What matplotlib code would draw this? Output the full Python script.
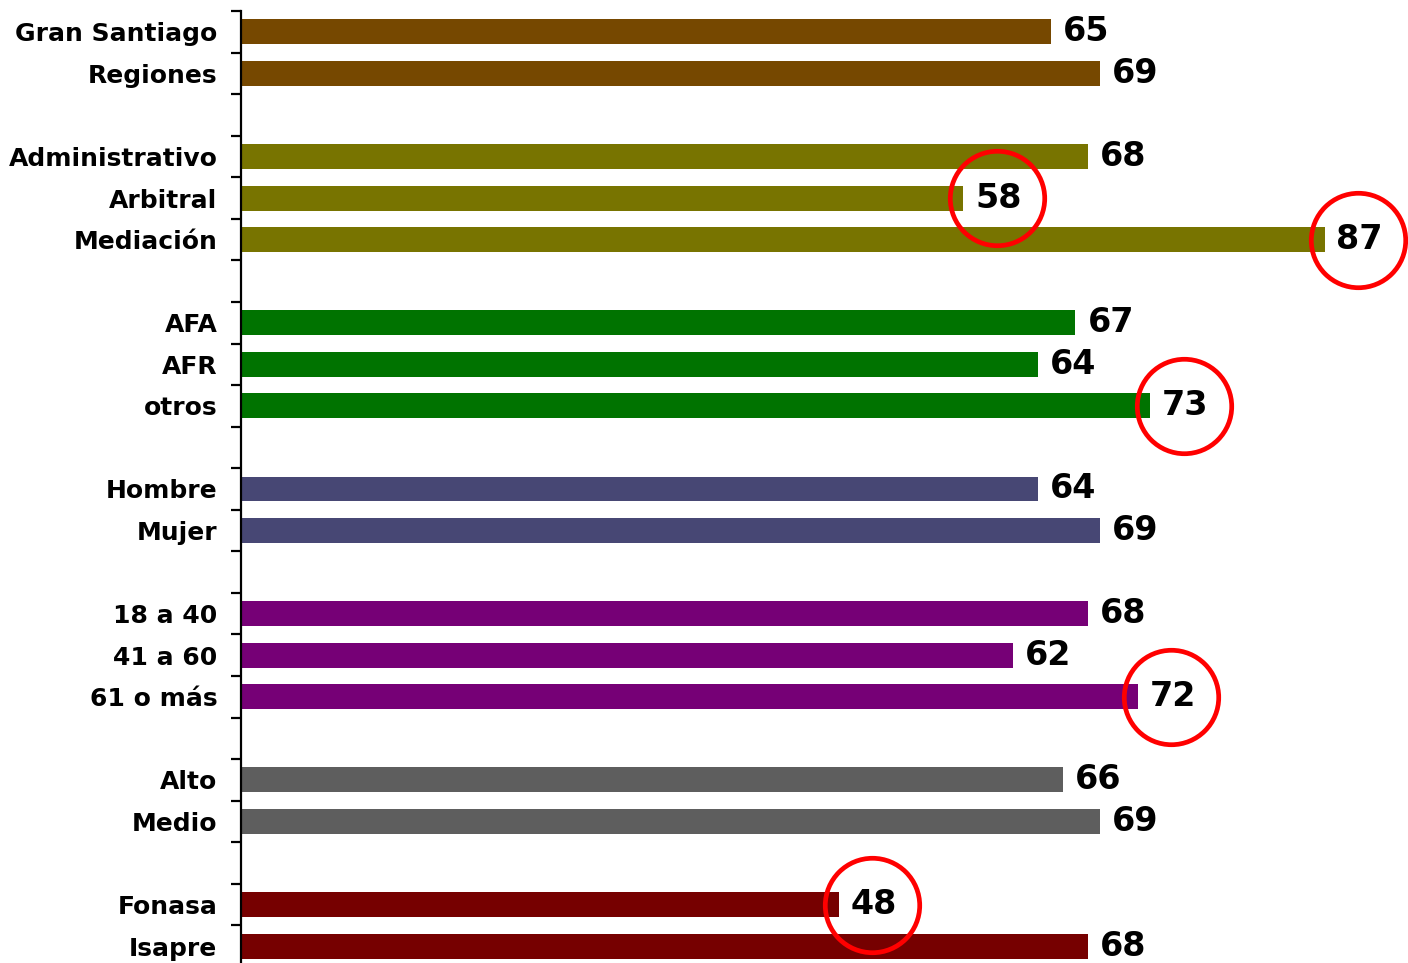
import matplotlib
matplotlib.use("Agg")
import matplotlib.pyplot as plt
from matplotlib.transforms import ScaledTranslation
import numpy as np

# Survey results by segment (percent)
groups = [
    ["Gran Santiago", "Regiones"],
    ["Administrativo", "Arbitral", "Mediación"],
    ["AFA", "AFR", "otros"],
    ["Hombre", "Mujer"],
    ["18 a 40", "41 a 60", "61 o más"],
    ["Alto", "Medio"],
    ["Fonasa", "Isapre"],
]
group_values = [
    [65, 69],
    [68, 58, 87],
    [67, 64, 73],
    [64, 69],
    [68, 62, 72],
    [66, 69],
    [48, 68],
]
group_colors = ["#764800", "#787400", "#007300", "#474774", "#760076", "#5e5e5e", "#760000"]
highlighted = ["Arbitral", "Mediación", "otros", "61 o más", "Fonasa"]

# Lay out rows with one blank slot between groups
labels, values, colors, rows = [], [], [], []
slot = 0
for names, vals, col in zip(groups, group_values, group_colors):
    for n, v in zip(names, vals):
        labels.append(n)
        values.append(v)
        colors.append(col)
        rows.append(slot)
        slot += 1
    slot += 1
n_slots = slot - 1

W, H, DPI = 1408, 963, 100
fig = plt.figure(figsize=(W / DPI, H / DPI), dpi=DPI)
left = 241 / W
top = 1 - 11 / H
bottom = -4 / H
ax = fig.add_axes([left, bottom, 1 - left, top - bottom])

ax.barh(rows, values, height=0.6, color=colors, zorder=2)
ax.set_xlim(0, 93.7)
ax.set_ylim(n_slots - 0.5, -0.5)

for spine in ["top", "right", "bottom"]:
    ax.spines[spine].set_visible(False)
ax.spines["left"].set_linewidth(1.6)
ax.spines["left"].set_zorder(3)
ax.set_xticks([])

ax.set_yticks(rows)
ax.set_yticklabels(labels, fontsize=18, fontweight="bold", fontfamily="DejaVu Sans")
ax.tick_params(axis="y", which="major", length=0, pad=17)
ax.set_yticks(np.arange(-0.5, n_slots, 1.0), minor=True)
ax.tick_params(axis="y", which="minor", length=7, width=1.6, direction="out")

# Value labels, with red rings around the notable ones
ring_shift = ax.transData + ScaledTranslation(24 / 72, 0, fig.dpi_scale_trans)
for r, v, name in zip(rows, values, labels):
    ax.annotate(f"{v}", xy=(v, r), xytext=(8.6, 0), textcoords="offset points",
                ha="left", va="center", fontsize=24, fontweight="heavy",
                fontfamily="DejaVu Sans", color="black", zorder=4)
    if name in highlighted:
        ax.plot([v], [r], marker="o", markersize=68, markerfacecolor="none",
                markeredgecolor="#ff0000", markeredgewidth=3.4, clip_on=False,
                transform=ring_shift, zorder=5)

fig.savefig("out.png", dpi=DPI)
